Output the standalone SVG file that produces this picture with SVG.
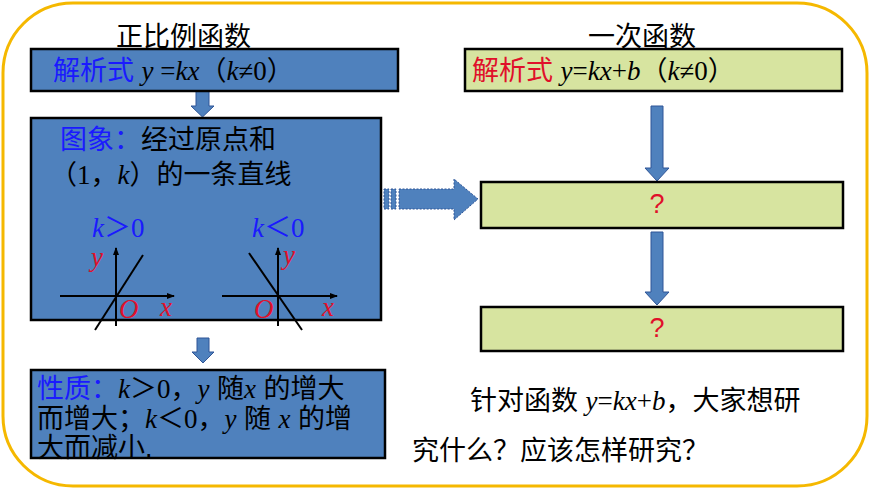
<svg xmlns="http://www.w3.org/2000/svg" width="870" height="489" viewBox="0 0 870 489">
<defs>
<style>
.cn{font-family:"Liberation Sans","Noto Sans CJK SC",sans-serif;font-size:27px;fill:#000}
.m{font-family:"Liberation Serif","Noto Sans CJK SC",serif;font-style:italic}
.s{font-family:"Liberation Serif","Noto Sans CJK SC",serif}
.bl{fill:#4f81bd;stroke:#000;stroke-width:2.5}
.gr{fill:#d7e4a0;stroke:#000;stroke-width:2.5}
.ar{fill:#4f81bd;stroke:#2f5597;stroke-width:1}
.ax{stroke:#000;stroke-width:2;fill:none}
.blue{fill:#1a1aff}.red{fill:#e0102a}
</style>
<marker id="ah" markerWidth="8" markerHeight="8" refX="7" refY="4" orient="auto" markerUnits="userSpaceOnUse"><path d="M0,1 L8,4 L0,7 Z" fill="#000"/></marker>
</defs>
<rect x="3" y="3" width="864" height="483" rx="70" fill="#fff" stroke="#f5b800" stroke-width="3"/>
<g id="connectors">
<path class="ar" d="M196,91 H209 V106 H214 L202.5,117 L191,106 H196 Z"/>
<path class="ar" d="M197,338 H209 V352 H214 L203,363 L192,352 H197 Z"/>
<path class="ar" d="M651,106 H663 V168 H669 L657,181 L645,168 H651 Z"/>
<path class="ar" d="M651,232 H663 V292 H669 L657,305 L645,292 H651 Z"/>
<g fill="#4f81bd" stroke="#2f5597" stroke-dasharray="2,1.5">
<rect x="384" y="189" width="5" height="20"/><rect x="391" y="189" width="5" height="20"/>
<path d="M399,189 H454 V179 L478,199 L454,220 V209 H399 Z"/>
</g>
</g>
<g id="left-title"><text class="cn" x="116" y="46">正比例函数</text></g>
<g id="box1"><rect class="bl" x="31" y="49" width="367" height="42"/>
<text class="cn" x="53" y="80"><tspan class="blue">解析式</tspan> <tspan class="m">y</tspan><tspan class="s"> =</tspan><tspan class="m">kx</tspan>（<tspan class="m">k</tspan><tspan class="s">≠0</tspan>）</text></g>
<g id="box2"><rect class="bl" x="31" y="118" width="350" height="202"/>
<text class="cn" x="60" y="149"><tspan class="blue">图象：</tspan>经过原点和</text>
<text class="cn" x="50" y="184">（<tspan class="s">1</tspan>，<tspan class="m">k</tspan>）的一条直线</text>
<text class="cn blue" x="92" y="237" font-size="28"><tspan class="m">k</tspan><tspan class="s">＞0</tspan></text>
<text class="cn blue" x="252" y="237" font-size="28"><tspan class="m">k</tspan><tspan class="s">＜0</tspan></text>
<line class="ax" x1="60" y1="296" x2="174" y2="296" marker-end="url(#ah)"/>
<line class="ax" x1="116" y1="326" x2="116" y2="248" marker-end="url(#ah)"/>
<line class="ax" x1="95" y1="330" x2="143" y2="255"/>
<line class="ax" x1="222" y1="296" x2="337" y2="296" marker-end="url(#ah)"/>
<line class="ax" x1="278" y1="326" x2="278" y2="248" marker-end="url(#ah)"/>
<line class="ax" x1="249" y1="253" x2="302" y2="330"/>
<text class="cn red m" x="91" y="266">y</text>
<text class="cn red m" x="119" y="318">O</text>
<text class="cn red m" x="160" y="316">x</text>
<text class="cn red m" x="283" y="264">y</text>
<text class="cn red m" x="254" y="318">O</text>
<text class="cn red m" x="322" y="316">x</text></g>
<g id="box3"><rect class="bl" x="31" y="370" width="354" height="88"/>
<text class="cn" x="37" y="398"><tspan class="blue">性质：</tspan><tspan class="m">k</tspan><tspan class="s">＞0</tspan>，<tspan class="m">y</tspan> 随<tspan class="m">x</tspan> 的增大</text>
<text class="cn" x="37" y="428">而增大；<tspan class="m">k</tspan><tspan class="s">＜0</tspan>，<tspan class="m">y</tspan> 随 <tspan class="m">x</tspan> 的增</text>
<text class="cn" x="37" y="457">大而减小.</text></g>
<g id="right-title"><text class="cn" x="588" y="46">一次函数</text></g>
<g id="r1"><rect class="gr" x="465" y="49" width="377" height="42"/>
<text class="cn" x="472" y="80"><tspan class="red">解析式</tspan> <tspan class="m">y</tspan><tspan class="s">=</tspan><tspan class="m">kx</tspan><tspan class="s">+</tspan><tspan class="m">b</tspan>（<tspan class="m">k</tspan><tspan class="s">≠0</tspan>）</text></g>
<g id="r2"><rect class="gr" x="481" y="182" width="362" height="46"/><text class="cn red" x="657" y="213" font-size="20" text-anchor="middle">?</text></g>
<g id="r3"><rect class="gr" x="481" y="307" width="362" height="44"/><text class="cn red" x="657" y="337" font-size="20" text-anchor="middle">?</text></g>
<g id="question">
<text class="cn" x="470" y="410">针对函数 <tspan class="m">y</tspan><tspan class="s">=</tspan><tspan class="m">kx</tspan><tspan class="s">+</tspan><tspan class="m">b</tspan>，大家想研</text>
<text class="cn" x="412" y="460">究什么？应该怎样研究？</text></g>
</svg>
